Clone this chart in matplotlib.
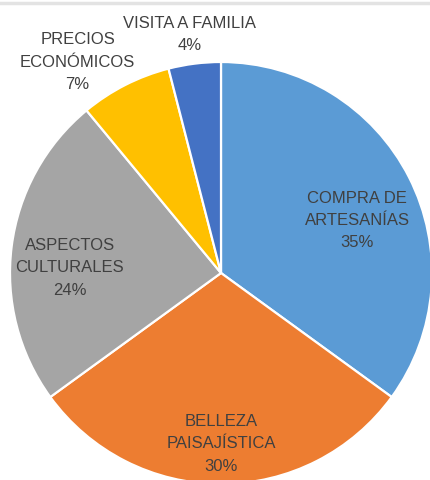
import matplotlib.pyplot as plt
from matplotlib.lines import Line2D

categories = ["COMPRA DE\nARTESANÍAS", "BELLEZA\nPAISAJÍSTICA", "ASPECTOS\nCULTURALES",
              "PRECIOS\nECONÓMICOS", "VISITA A FAMILIA"]
values = [35, 30, 24, 7, 4]
colors = ["#5B9BD5", "#ED7D31", "#A5A5A5", "#FFC000", "#4472C4"]

# label centres, in units of pie radius (Excel-like placement)
label_pos = [(0.645, 0.25), (0.0, -0.81), (-0.716, 0.024), (-0.68, 1.0), (-0.15, 1.13)]

plt.rcParams['font.family'] = ['Liberation Sans', 'DejaVu Sans']

fig = plt.figure(figsize=(4.31, 4.80), dpi=100)
ax = fig.add_axes([0, 0, 1, 1])

# pie centre and radius in pixels
cx, cy, r = 221, 480 - 273, 211

ax.pie(values, colors=colors, startangle=90, counterclock=False,
       center=(cx, cy), radius=r,
       wedgeprops=dict(edgecolor="white", linewidth=1.6))

for name, v, (px, py) in zip(categories, values, label_pos):
    ax.text(cx + px * r, cy + py * r, f"{name}\n{v}%", ha="center", va="center",
            fontsize=12, color="#404040", linespacing=1.6)

ax.set_xlim(0, 431)
ax.set_ylim(0, 480)
ax.set_aspect("equal")
ax.axis("off")

# thin grey rule across the top
fig.add_artist(Line2D([0, 1], [1 - 3 / 480, 1 - 3 / 480], color="#e3e3e3", linewidth=2.5))

fig.savefig("out.png", dpi=100)
